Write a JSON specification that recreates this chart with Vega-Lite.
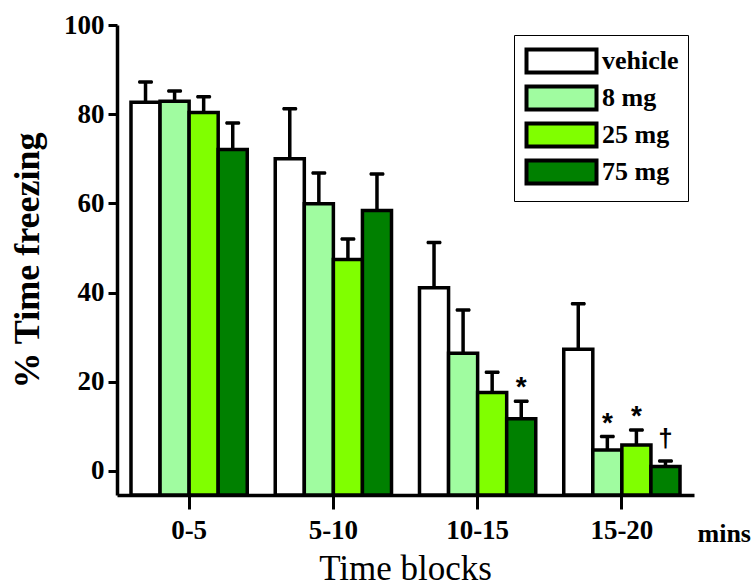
{
  "$schema": "https://vega.github.io/schema/vega-lite/v6.json",
  "width": 577,
  "height": 470,
  "autosize": "none",
  "padding": {"left": 117, "top": 25, "right": 60, "bottom": 91},
  "background": "white",
  "title": {
    "text": "Time blocks",
    "orient": "bottom",
    "anchor": "middle",
    "frame": "group",
    "font": "Liberation Serif",
    "fontSize": 35,
    "fontWeight": "normal",
    "color": "black",
    "offset": 6
  },
  "config": {
    "view": {"stroke": null},
    "axis": {
      "domainColor": "black",
      "domainWidth": 3.5,
      "tickColor": "black",
      "tickWidth": 3,
      "labelColor": "black",
      "labelFont": "Liberation Serif",
      "labelFontWeight": "bold",
      "labelFontSize": 27,
      "titleColor": "black",
      "titleFont": "Liberation Serif",
      "titleFontWeight": "bold",
      "grid": false
    }
  },
  "data": {
    "values": [
      {"block": "0-5", "dose": "vehicle", "mean": 82.7, "upper": 87.2, "sig": ""},
      {"block": "0-5", "dose": "8 mg", "mean": 82.9, "upper": 85.2, "sig": ""},
      {"block": "0-5", "dose": "25 mg", "mean": 80.4, "upper": 83.9, "sig": ""},
      {"block": "0-5", "dose": "75 mg", "mean": 72.1, "upper": 78.0, "sig": ""},
      {"block": "5-10", "dose": "vehicle", "mean": 70.0, "upper": 81.2, "sig": ""},
      {"block": "5-10", "dose": "8 mg", "mean": 59.9, "upper": 66.8, "sig": ""},
      {"block": "5-10", "dose": "25 mg", "mean": 47.4, "upper": 52.0, "sig": ""},
      {"block": "5-10", "dose": "75 mg", "mean": 58.4, "upper": 66.6, "sig": ""},
      {"block": "10-15", "dose": "vehicle", "mean": 41.1, "upper": 51.2, "sig": ""},
      {"block": "10-15", "dose": "8 mg", "mean": 26.4, "upper": 36.1, "sig": ""},
      {"block": "10-15", "dose": "25 mg", "mean": 17.6, "upper": 22.1, "sig": ""},
      {"block": "10-15", "dose": "75 mg", "mean": 11.7, "upper": 15.6, "sig": "*"},
      {"block": "15-20", "dose": "vehicle", "mean": 27.3, "upper": 37.5, "sig": ""},
      {"block": "15-20", "dose": "8 mg", "mean": 4.7, "upper": 7.7, "sig": "*"},
      {"block": "15-20", "dose": "25 mg", "mean": 5.8, "upper": 9.2, "sig": "*"},
      {"block": "15-20", "dose": "75 mg", "mean": 1.0, "upper": 2.2, "sig": "†"}
    ]
  },
  "encoding": {
    "x": {
      "field": "block",
      "type": "nominal",
      "sort": ["0-5", "5-10", "10-15", "15-20"],
      "scale": {"paddingInner": 0.194, "paddingOuter": 0.097},
      "axis": {
        "title": "mins",
        "labelAngle": 0,
        "tickSize": 14,
        "labelPadding": 8,
        "titleFontSize": 26,
        "titleAnchor": "start",
        "titleAlign": "left",
        "titleBaseline": "alphabetic",
        "titleX": 580,
        "titleY": 46
      }
    },
    "xOffset": {
      "field": "dose",
      "type": "nominal",
      "sort": ["vehicle", "8 mg", "25 mg", "75 mg"],
      "scale": {"paddingInner": 0, "paddingOuter": 0}
    }
  },
  "layer": [
    {
      "mark": {"type": "bar", "stroke": "black", "strokeWidth": 3.5, "strokeJoin": "miter", "opacity": 1},
      "encoding": {
        "y": {
          "field": "mean",
          "type": "quantitative",
          "scale": {"domain": [-5.4, 100], "nice": false, "zero": false},
          "axis": {
            "title": "% Time freezing",
            "values": [0, 20, 40, 60, 80, 100],
            "tickSize": 9,
            "labelPadding": 4,
            "titleFontSize": 36,
            "titlePadding": 17
          }
        },
        "y2": {"datum": -5.4},
        "fill": {
          "field": "dose",
          "type": "nominal",
          "sort": ["vehicle", "8 mg", "25 mg", "75 mg"],
          "scale": {
            "domain": ["vehicle", "8 mg", "25 mg", "75 mg"],
            "range": ["#ffffff", "#a0fca0", "#80ff00", "#008000"]
          },
          "legend": {
            "title": null,
            "orient": "none",
            "legendX": 397,
            "legendY": 10,
            "strokeColor": "black",
            "padding": 9,
            "symbolType": "M-0.9,-0.767H3.767V0.767H-0.9Z",
            "symbolSize": 900,
            "symbolStrokeColor": "black",
            "symbolStrokeWidth": 4,
            "symbolOpacity": 1,
            "labelFont": "Liberation Serif",
            "labelFontWeight": "bold",
            "labelFontSize": 26,
            "labelColor": "black",
            "labelOffset": 45,
            "rowPadding": -6
          }
        }
      }
    },
    {
      "mark": {"type": "rule", "color": "black", "strokeWidth": 3.5},
      "encoding": {
        "y": {"field": "mean", "type": "quantitative"},
        "y2": {"field": "upper"}
      }
    },
    {
      "mark": {"type": "tick", "color": "black", "thickness": 3.5, "size": 15, "cornerRadius": 1.5, "opacity": 1},
      "encoding": {
        "y": {"field": "upper", "type": "quantitative"}
      }
    },
    {
      "transform": [{"filter": "datum.sig === '*'"}],
      "mark": {"type": "text", "font": "Liberation Sans", "fontWeight": "bold", "fontSize": 28, "color": "black", "baseline": "alphabetic", "dy": -5},
      "encoding": {
        "y": {"field": "upper", "type": "quantitative"},
        "text": {"field": "sig"}
      }
    },
    {
      "transform": [{"filter": "datum.sig === '†'"}],
      "mark": {"type": "text", "font": "Liberation Sans", "fontWeight": "bold", "fontSize": 26, "color": "black", "baseline": "alphabetic", "dy": -14},
      "encoding": {
        "y": {"field": "upper", "type": "quantitative"},
        "text": {"field": "sig"}
      }
    }
  ]
}
